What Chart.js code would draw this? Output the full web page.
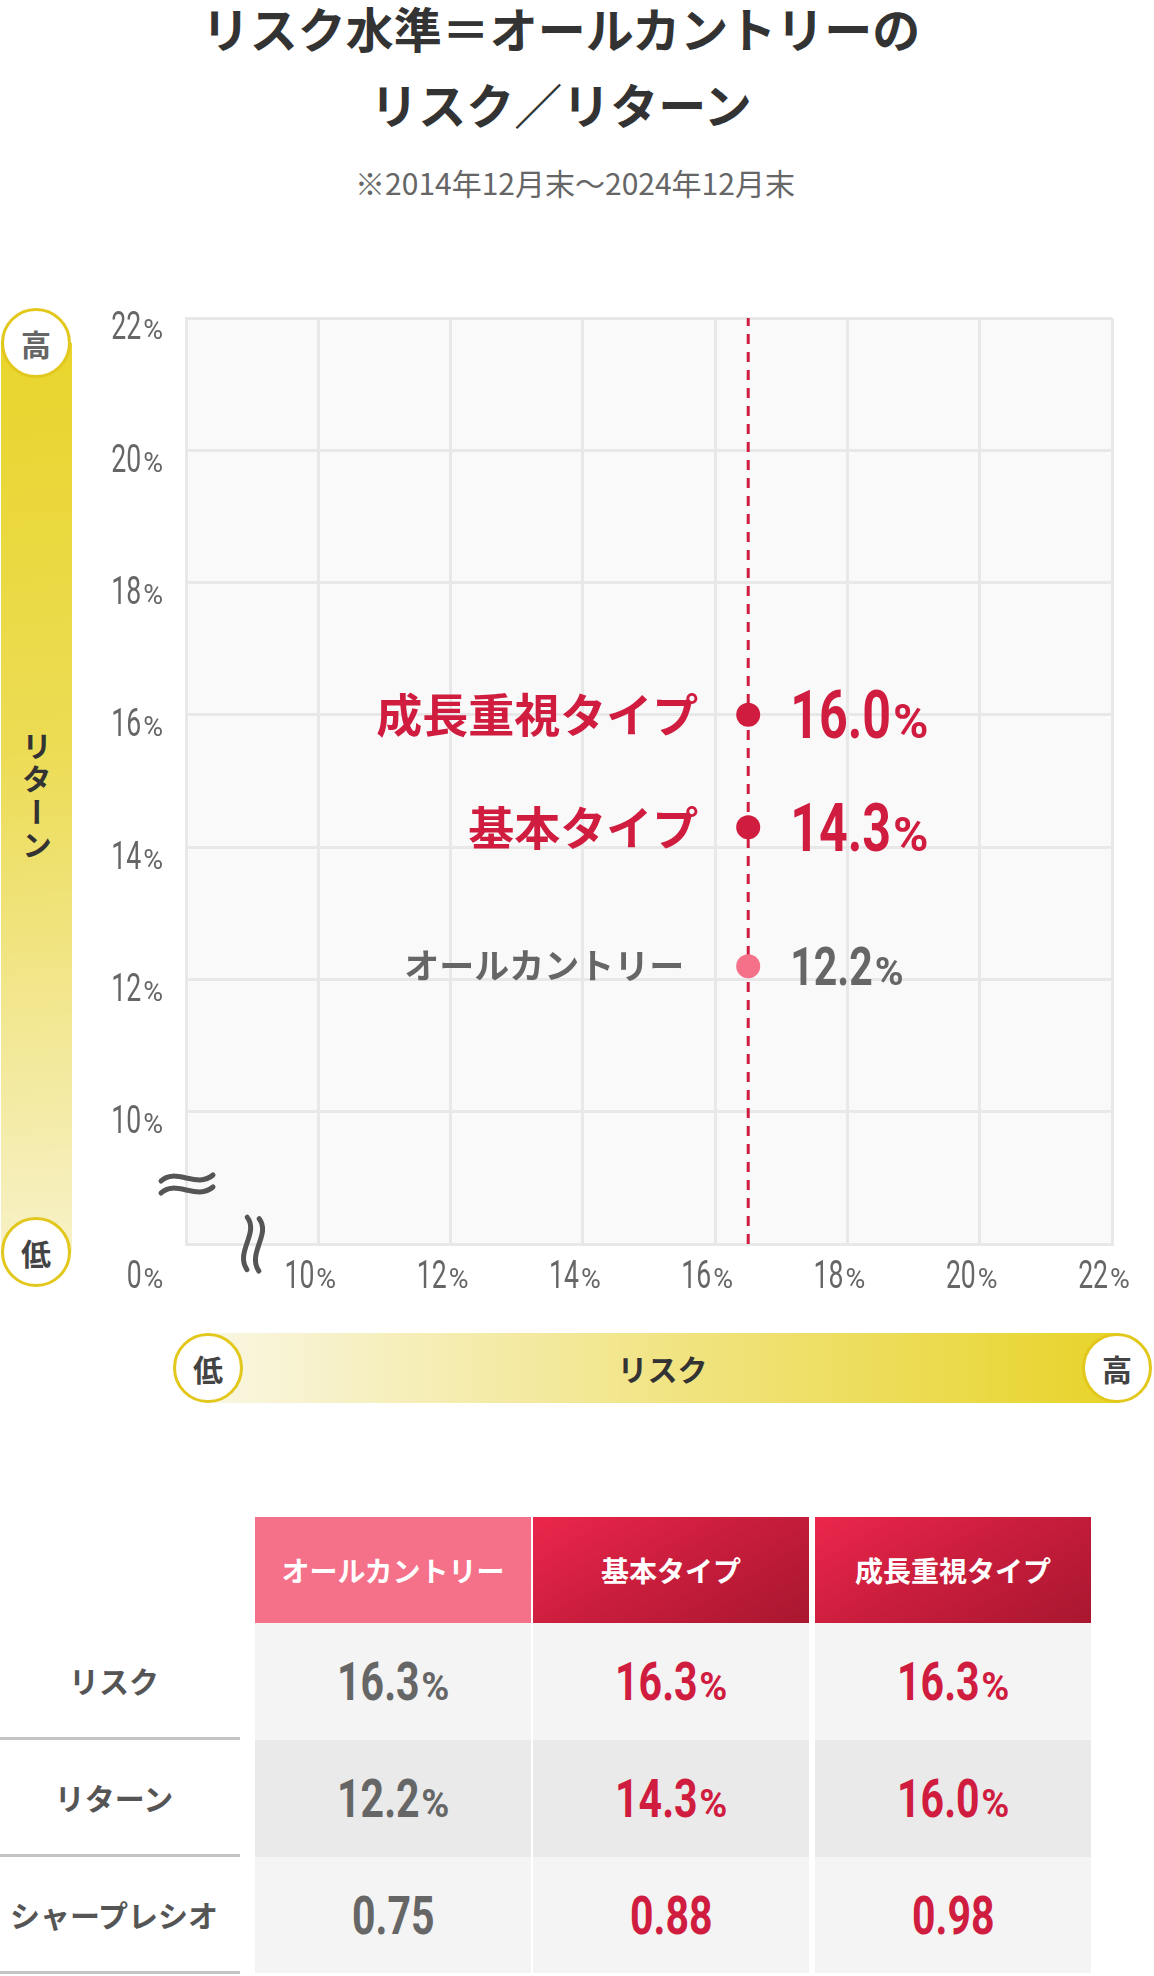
<!DOCTYPE html>
<html lang="ja">
<head>
<meta charset="utf-8">
<script src="https://cdn.jsdelivr.net/npm/chart.js@4.4.1/dist/chart.umd.min.js"></script>
<style>
  html, body { margin: 0; padding: 0; background: #fff; }
  body { width: 1154px; height: 1976px; position: relative; overflow: hidden;
         font-family: "Noto Sans CJK JP", "Noto Sans", sans-serif; color: #333; }
  .abs { position: absolute; }
  .title { left: 0; top: -11px; width: 1122px; text-align: center; font-size: 48px; font-weight: 700;
           line-height: 76px; color: #333; }
  .sub { left: 0; top: 162px; width: 1150px; text-align: center; font-size: 30px; line-height: 40px; color: #666; }
  .vbar { left: 1px; top: 343px; width: 71px; height: 909px;
          background: linear-gradient(175deg, #e9d52c 0%, #ecdc55 45%, #f7f1c8 100%); }
  .hbar { left: 208px; top: 1333px; width: 909px; height: 70px;
          background: linear-gradient(90deg, #f9f6e2 0%, #f2e68e 45%, #e8d42a 100%); }
  .circle { width: 64px; height: 64px; border: 3px solid #e2c71c; border-radius: 50%; background: #fff;
            text-align: center; line-height: 64px; font-size: 30px; font-weight: 700; color: #444; }
  .vtext { left: 1px; top: 717px; width: 71px; height: 160px; display: flex; align-items: center; justify-content: center; }
  .vtext span { writing-mode: vertical-rl; font-size: 30px; font-weight: 700; line-height: 71px;
                letter-spacing: 3px; color: #333; }
  .htext { left: 208px; top: 1333px; width: 909px; height: 70px; text-align: center; line-height: 70px;
           font-size: 30px; font-weight: 700; color: #333; }
  #chartBox { left: 80px; top: 290px; width: 1074px; height: 1020px; }
  .cell { position: absolute; display: flex; align-items: center; justify-content: center; box-sizing: border-box; }
  .head { color: #fff; font-size: 28px; font-weight: 700; }
  .rowlabel { font-size: 30px; font-weight: 700; color: #555; border-bottom: 3px solid #c4c4c4; padding-right: 12px; }
  .num { font-family: Roboto, "Noto Sans", sans-serif; font-weight: 700; white-space: nowrap; }
  .num .digits { display: inline-block; font-size: 54px; transform: scaleX(0.76); transform-origin: right center; }
  .num .pct { font-size: 38px; margin-left: 2px; }
</style>
</head>
<body>
<div class="abs title">リスク水準＝オールカントリーの<br>リスク／リターン</div>
<div class="abs sub">※2014年12月末～2024年12月末</div>

<div class="abs vbar"></div>
<div class="abs circle" style="left:1px;top:308px;color:#666;">高</div>
<div class="abs circle" style="left:1px;top:1217px;">低</div>
<div class="abs vtext"><span>リターン</span></div>

<div class="abs hbar"></div>
<div class="abs htext">リスク</div>
<div class="abs circle" style="left:173px;top:1333px;">低</div>
<div class="abs circle" style="left:1082px;top:1333px;">高</div>

<div id="chartBox" class="abs"><canvas id="riskChart" width="1074" height="1020"></canvas></div>
<div id="table"></div>

<script>
// --- data ---
const seriesNames = ["オールカントリー", "基本タイプ", "成長重視タイプ"];
const riskValues = [16.3, 16.3, 16.3];      // table
const returnValues = [12.2, 14.3, 16.0];    // table + chart
const sharpeValues = [0.75, 0.88, 0.98];    // table
const plottedRisk = [16.5, 16.5, 16.5];     // where the dots sit on the x axis
const rowLabels = ["リスク", "リターン", "シャープレシオ"];
const axisMin = 8, axisMax = 22, axisStep = 2;
const cornerLabel = "0";

const CRIMSON = "#cf1c3f";
const PINK = "#f5718a";
const numFont = "Roboto, 'Noto Sans', sans-serif";
const jpFont = "'Noto Sans CJK JP', 'Noto Sans', sans-serif";
const SQUEEZE = 0.76;

// narrow digits followed by a smaller "%"
function drawNumber(ctx, num, suffix, x, cy, size, align, weight, squeeze) {
  const small = Math.round(size * 0.72);
  ctx.font = `${weight} ${size}px ${numFont}`;
  const w1 = ctx.measureText(num).width * squeeze;
  ctx.font = `${weight} ${small}px ${numFont}`;
  const w2 = suffix ? ctx.measureText(suffix).width + 2 : 0;
  const total = w1 + w2;
  const x0 = align === "right" ? x - total : align === "center" ? x - total / 2 : x;
  const base = cy + size * 0.355;
  ctx.save();
  ctx.textAlign = "left";
  ctx.textBaseline = "alphabetic";
  ctx.save();
  ctx.translate(x0, base);
  ctx.scale(squeeze, 1);
  ctx.font = `${weight} ${size}px ${numFont}`;
  ctx.fillText(num, 0, 0);
  ctx.restore();
  if (suffix) {
    ctx.font = `${weight} ${small}px ${numFont}`;
    ctx.fillText(suffix, x0 + w1 + 2, base);
  }
  ctx.restore();
}

const plotBackground = {
  id: "plotBackground",
  beforeDraw(chart) {
    const { ctx, chartArea: a } = chart;
    ctx.save();
    ctx.fillStyle = "#f9f9f9";
    ctx.fillRect(a.left, a.top, a.right - a.left, a.bottom - a.top);
    ctx.restore();
  },
};

// tick labels from the scales, drawn narrow with a small "%"
const tickLabels = {
  id: "tickLabels",
  afterDraw(chart) {
    const { ctx, chartArea: a, scales } = chart;
    ctx.save();
    ctx.fillStyle = "#666";
    scales.y.ticks.forEach((t) => {
      if (t.value === axisMin) return;
      drawNumber(ctx, String(t.value), "%", a.left - 23, scales.y.getPixelForValue(t.value) + 8, 38, "right", 400, 0.7);
    });
    scales.x.ticks.forEach((t) => {
      if (t.value === axisMin) return;
      drawNumber(ctx, String(t.value), "%", scales.x.getPixelForValue(t.value) - 8, a.bottom + 31, 38, "center", 400, 0.7);
    });
    drawNumber(ctx, cornerLabel, "%", a.left - 41, a.bottom + 31, 38, "center", 400, 0.7);
    ctx.restore();
  },
};

// "≈" break marks on both axes
const axisBreaks = {
  id: "axisBreaks",
  afterDraw(chart) {
    const { ctx, chartArea: a } = chart;
    ctx.save();
    ctx.strokeStyle = "#555";
    ctx.lineWidth = 5;
    ctx.lineCap = "round";
    const wave = (cx, cy) => {
      for (const dy of [-6, 6]) {
        ctx.beginPath();
        ctx.moveTo(cx - 26, cy + dy + 2);
        ctx.bezierCurveTo(cx - 12, cy + dy - 12, cx + 10, cy + dy + 10, cx + 26, cy + dy - 4);
        ctx.stroke();
      }
    };
    wave(a.left + 1, a.bottom - 59);
    ctx.translate(a.left + 66, a.bottom);
    ctx.rotate(Math.PI / 2 + 0.12);
    wave(0, 0);
    ctx.restore();
  },
};

const pointLabels = {
  id: "pointLabels",
  afterDatasetsDraw(chart) {
    const ctx = chart.ctx;
    const meta = chart.getDatasetMeta(1);
    meta.data.forEach((pt, i) => {
      const strong = i > 0;
      ctx.save();
      ctx.fillStyle = strong ? CRIMSON : "#666";
      ctx.font = `bold ${strong ? 46 : 35}px ${jpFont}`;
      ctx.textAlign = "right";
      ctx.textBaseline = "middle";
      ctx.fillText(seriesNames[i], pt.x - (strong ? 50 : 64), pt.y);
      drawNumber(ctx, returnValues[i].toFixed(1), "%", pt.x + 42, pt.y, strong ? 66 : 54, "left", 700, SQUEEZE);
      ctx.restore();
    });
  },
};

const axisOptions = (fitFn) => ({
  type: "linear",
  min: axisMin,
  max: axisMax,
  ticks: { stepSize: axisStep, display: false },
  grid: { color: "#e8e8e8", lineWidth: 3, drawTicks: false },
  border: { color: "#e8e8e8", width: 3 },
  afterFit: fitFn,
});

new Chart(document.getElementById("riskChart"), {
  type: "scatter",
  data: {
    datasets: [
      {
        type: "line",
        data: [{ x: plottedRisk[0], y: axisMin }, { x: plottedRisk[0], y: axisMax }],
        borderColor: CRIMSON,
        borderWidth: 3,
        borderDash: [10, 8],
        pointRadius: 0,
        order: 2,
      },
      {
        data: plottedRisk.map((x, i) => ({ x, y: returnValues[i] })),
        backgroundColor: [PINK, CRIMSON, CRIMSON],
        borderWidth: 0,
        pointRadius: 12,
        pointHoverRadius: 12,
        order: 1,
      },
    ],
  },
  options: {
    responsive: false,
    animation: false,
    events: [],
    layout: { padding: { top: 28, right: 42, left: 0, bottom: 0 } },
    plugins: { legend: { display: false }, tooltip: { enabled: false } },
    scales: {
      x: axisOptions((s) => { s.height = 66; }),
      y: axisOptions((s) => { s.width = 106; }),
    },
  },
  plugins: [plotBackground, pointLabels, tickLabels, axisBreaks],
});

// --- table ---
const table = document.getElementById("table");
const colLeft = [255, 533, 815];
const colWidth = 276;
const headTop = 1517, headHeight = 106, rowHeight = 117;
const headBg = [
  PINK,
  "linear-gradient(150deg, #ec264c 0%, #c81d3c 50%, #a9172f 100%)",
  "linear-gradient(150deg, #ec264c 0%, #c81d3c 50%, #a9172f 100%)",
];
const rowBg = ["#f4f4f4", "#eaeaea", "#f4f4f4"];

function addCell(html, cls, left, top, width, height, style) {
  const d = document.createElement("div");
  d.className = "cell " + cls;
  d.innerHTML = html;
  Object.assign(d.style, { left: left + "px", top: top + "px", width: width + "px", height: height + "px" }, style);
  table.appendChild(d);
}

const pctCell = (v) => `<span class="num"><span class="digits">${v.toFixed(1)}</span><span class="pct">%</span></span>`;
const plainCell = (v) => `<span class="num"><span class="digits">${v.toFixed(2)}</span></span>`;

seriesNames.forEach((name, c) => {
  addCell(name, "head", colLeft[c], headTop, colWidth, headHeight, { background: headBg[c] });
});

const rows = [riskValues.map(pctCell), returnValues.map(pctCell), sharpeValues.map(plainCell)];

rows.forEach((cells, r) => {
  const top = headTop + headHeight + r * rowHeight;
  addCell(rowLabels[r], "rowlabel", 0, top, 240, rowHeight, {});
  cells.forEach((html, c) => {
    addCell(html, "", colLeft[c], top, colWidth, rowHeight - (r < 2 ? 0 : 1),
      { background: rowBg[r], color: c === 0 ? "#666" : CRIMSON });
  });
});

// the scaled digits keep their full layout width, so pull them in
document.querySelectorAll(".num .digits").forEach((el) => {
  el.style.marginLeft = -(el.offsetWidth * (1 - SQUEEZE)) + "px";
});
</script>
</body>
</html>
